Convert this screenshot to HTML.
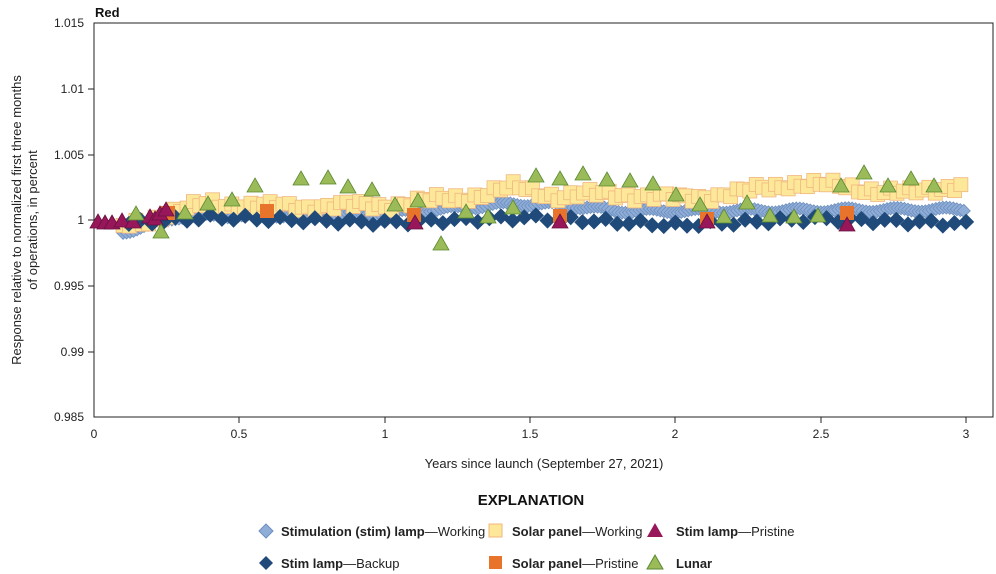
<!DOCTYPE html>
<html><head><meta charset="utf-8"><style>
body{margin:0;background:#fff;width:996px;height:574px;overflow:hidden}
svg{display:block;font-family:"Liberation Sans",sans-serif}
</style></head><body>
<svg id="s" width="996" height="574" xmlns="http://www.w3.org/2000/svg">
<rect x="94" y="23" width="899" height="394" fill="none" stroke="#222" stroke-width="1"/>
<text x="95" y="17" font-size="13" font-weight="bold" fill="#111">Red</text>
<g font-size="12" fill="#222" text-anchor="end">
<text x="84" y="27">1.015</text><text x="84" y="93">1.01</text><text x="84" y="159">1.005</text>
<text x="84" y="224">1</text><text x="84" y="290">0.995</text><text x="84" y="356">0.99</text><text x="84" y="421">0.985</text>
</g>
<g stroke="#222"><line x1="88" x2="94" y1="89" y2="89"/><line x1="88" x2="94" y1="155" y2="155"/><line x1="88" x2="94" y1="220" y2="220"/><line x1="88" x2="94" y1="286" y2="286"/><line x1="88" x2="94" y1="352" y2="352"/>
<line x1="239" x2="239" y1="417" y2="423"/><line x1="385" x2="385" y1="417" y2="423"/><line x1="530" x2="530" y1="417" y2="423"/><line x1="675" x2="675" y1="417" y2="423"/><line x1="821" x2="821" y1="417" y2="423"/><line x1="966" x2="966" y1="417" y2="423"/></g>
<g font-size="12" fill="#222" text-anchor="middle">
<text x="94" y="438">0</text><text x="239" y="438">0.5</text><text x="385" y="438">1</text><text x="530" y="438">1.5</text><text x="675" y="438">2</text><text x="821" y="438">2.5</text><text x="966" y="438">3</text>
<text x="544" y="468" font-size="13">Years since launch (September 27, 2021)</text>
</g>
<text transform="translate(21,220) rotate(-90)" font-size="13" text-anchor="middle" fill="#222"><tspan x="0" dy="0">Response relative to normalized first three months</tspan><tspan x="0" dy="16">of operations, in percent</tspan></text>
<g id="d"></g>
<text x="531" y="505" font-size="15" font-weight="bold" text-anchor="middle" fill="#111">EXPLANATION</text>
<g font-size="13" fill="#222">
<path d="M266 524l7 7-7 7-7-7z" fill="#8fadd6" stroke="#6d8fbf"/>
<text x="281" y="536"><tspan font-weight="bold">Stimulation (stim) lamp</tspan>—Working</text>
<path d="M266 556l7 7-7 7-7-7z" fill="#1f4a7a"/>
<text x="281" y="568"><tspan font-weight="bold">Stim lamp</tspan>—Backup</text>
<rect x="489" y="524" width="13" height="13" fill="#fde89a" stroke="#f0b67f"/>
<text x="512" y="536"><tspan font-weight="bold">Solar panel</tspan>—Working</text>
<rect x="489" y="556" width="13" height="13" fill="#e8732a"/>
<text x="512" y="568"><tspan font-weight="bold">Solar panel</tspan>—Pristine</text>
<path d="M655 523l8 14h-16z" fill="#97175a"/>
<text x="676" y="536"><tspan font-weight="bold">Stim lamp</tspan>—Pristine</text>
<path d="M655 555l8 14h-16z" fill="#9bbb59" stroke="#5a8a30"/>
<text x="676" y="568"><tspan font-weight="bold">Lunar</tspan></text>
</g>
</svg>
<script>
var g=document.getElementById('d'),h='';
function X(t){return 94+t*290.7}function Y(v){return 220+(1-v)*13160}
function dia(x,y,r,f,s){h+='<path d="M'+x+' '+(y-r)+'l'+r+' '+r+'-'+r+' '+r+'-'+r+'-'+r+'z" fill="'+f+'" stroke="'+s+'" stroke-width="0.8"/>'}
function lin(t,p){for(var i=0;i<p.length-1;i++)if(t>=p[i][0]&&t<=p[i+1][0]){var a=(t-p[i][0])/(p[i+1][0]-p[i][0]);return p[i][1]+a*(p[i+1][1]-p[i][1])}return p[p.length-1][1]}
var sw=[[0.1,0.9991],[0.3,1.0003],[1,1.0005],[1.4,1.0012],[1.6,1.0012],[1.8,1.0007],[2.2,1.0007],[3,1.0008]];
var so=[[0.1,0.9995],[0.4,1.0013],[0.6,1.0010],[1,1.0011],[1.3,1.0018],[1.45,1.0025],[1.6,1.0018],[1.8,1.0020],[2,1.0016],[2.2,1.0020],[2.4,1.0028],[2.6,1.0025],[2.8,1.0020],[3,1.0028]];
var bk=[[0.1,0.9997],[0.4,1.0002],[1,0.9998],[1.5,1.0002],[2,0.9996],[2.5,1.0001],[3,0.9997]];
var t;
for(t=0.1;t<=3.001;t+=0.012){dia(X(t),Y(lin(t,sw)+Math.sin(t*37)*0.00015),6.5,'#8fadd6','#6d8fbf')}
for(t=0.1;t<=3.001;t+=0.022){var x=X(t),y=Y(lin(t,so)+Math.sin(t*23)*0.0002+Math.sin(t*97)*0.00025);h+='<rect x="'+(x-7)+'" y="'+(y-7)+'" width="14" height="14" fill="#fde89a" stroke="#f0b67f" stroke-width="0.8"/>'}
for(t=0.12;t<=3.001;t+=0.04){dia(X(t),Y(lin(t,bk)+Math.sin(t*51)*0.0002),7.5,'#1f4a7a','#1f4a7a')}
[[168,213],[267,211],[414,215],[560,216],[707,219],[847,213]].forEach(function(p){h+='<rect x="'+(p[0]-7)+'" y="'+(p[1]-7)+'" width="14" height="14" fill="#e8732a"/>'});
function tri(x,y,f,s){h+='<path d="M'+x+' '+(y-8)+'l8 14h-16z" fill="'+f+'" stroke="'+s+'" stroke-width="0.8"/>'}
[[98,222],[105,223],[112,223],[122,221],[133,222],[150,217],[155,219],[160,214],[166,210],[415,223],[560,222],[707,222],[847,225]].forEach(function(p){tri(p[0],p[1],'#97175a','#6a1040')});
[[136,214],[161,232],[185,213],[208,204],[232,200],[255,186],[301,179],[328,178],[348,187],[372,190],[395,205],[418,201],[441,244],[466,212],[488,217],[513,208],[536,176],[560,179],[583,174],[607,180],[630,181],[653,184],[676,195],[700,205],[724,217],[747,203],[770,216],[794,217],[818,216],[841,186],[864,173],[888,186],[911,179],[934,186]].forEach(function(p){tri(p[0],p[1],'#9bbb59','#5a8a30')});
g.innerHTML=h;
</script>
</body></html>
